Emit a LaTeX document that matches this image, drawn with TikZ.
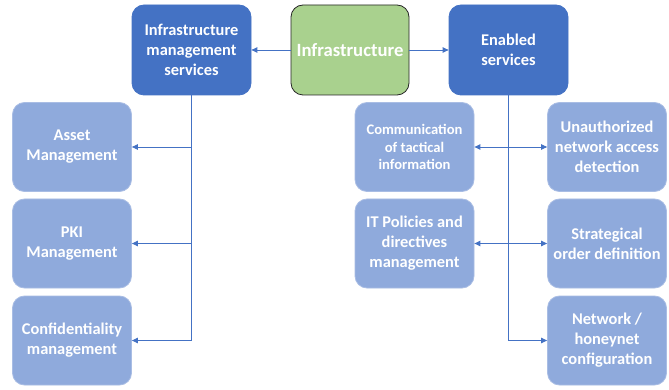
\documentclass[tikz,border=0pt]{standalone}
\usepackage{fontspec}
\setmainfont{Carlito}
\usetikzlibrary{arrows.meta}
\definecolor{dblue}{HTML}{4472C4}
\definecolor{lblue}{HTML}{8FAADC}
\definecolor{lbord}{HTML}{A9BDE4}
\definecolor{green}{HTML}{A9D18E}
\begin{document}
\begin{tikzpicture}[x=1pt,y=-1pt,
  topbox/.style={draw=dblue,fill=dblue,rounded corners=12pt,minimum width=119pt,minimum height=90pt,
    text=white,font=\fontsize{16.4}{20}\selectfont\bfseries,align=center,inner sep=2pt,line width=0.8pt},
  greenbox/.style={draw=black!85,fill=green,rounded corners=12pt,minimum width=118pt,minimum height=90pt,
    text=white,font=\fontsize{18.7}{22}\selectfont\bfseries,align=center,line width=0.8pt},
  subbox/.style={draw=lbord,fill=lblue,rounded corners=12pt,minimum width=119pt,minimum height=89pt,
    text=white,font=\fontsize{16.4}{20}\selectfont\bfseries,align=center,inner sep=2pt,line width=0.8pt},
  smalltext/.style={font=\fontsize{14.6}{17.8}\selectfont\bfseries},
  conn/.style={draw=dblue,line width=0.9pt},
  arr/.style={conn,-{Triangle[length=6pt,width=5.5pt]}},
  darr/.style={conn,{Triangle[length=6pt,width=5.5pt]}-{Triangle[length=6pt,width=5.5pt]}}
]
\useasboundingbox (0,0) rectangle (669,390);
\fill[white] (0,0) rectangle (669,390);

\node[topbox] (ims) at (191.5,50) {Infrastructure\\management\\services};
\node[greenbox] (infra) at (350,50) {Infrastructure};
\node[topbox] (ens) at (508.5,50) {Enabled\\services};

\node[subbox] (asset) at (72,147) {Asset\\Management};
\node[subbox] (pki) at (72,243.5) {PKI\\Management};
\node[subbox] (conf) at (72,340.5) {Confidentiality\\management};

\node[subbox,smalltext] (comm) at (414.5,147) {Communication\\of tactical\\information};
\node[subbox] (itp) at (414.5,243.5) {IT Policies and\\directives\\management};

\node[subbox] (unauth) at (607,147) {Unauthorized\\network access\\detection};
\node[subbox] (strat) at (607,243.5) {Strategical\\order definition};
\node[subbox] (net) at (607,340.5) {Network /\\honeynet\\configuration};

\draw[arr] (infra.west) -- (ims.east);
\draw[arr] (infra.east) -- (ens.west);

\draw[arr] (ims.south) |- (conf.east);
\draw[arr] (ims.south |- asset.east) -- (asset.east);
\draw[arr] (ims.south |- pki.east) -- (pki.east);

\draw[arr] (ens.south) |- (net.west);
\draw[darr] (comm.east) -- (unauth.west);
\draw[darr] (itp.east) -- (strat.west);
\end{tikzpicture}
\end{document}
